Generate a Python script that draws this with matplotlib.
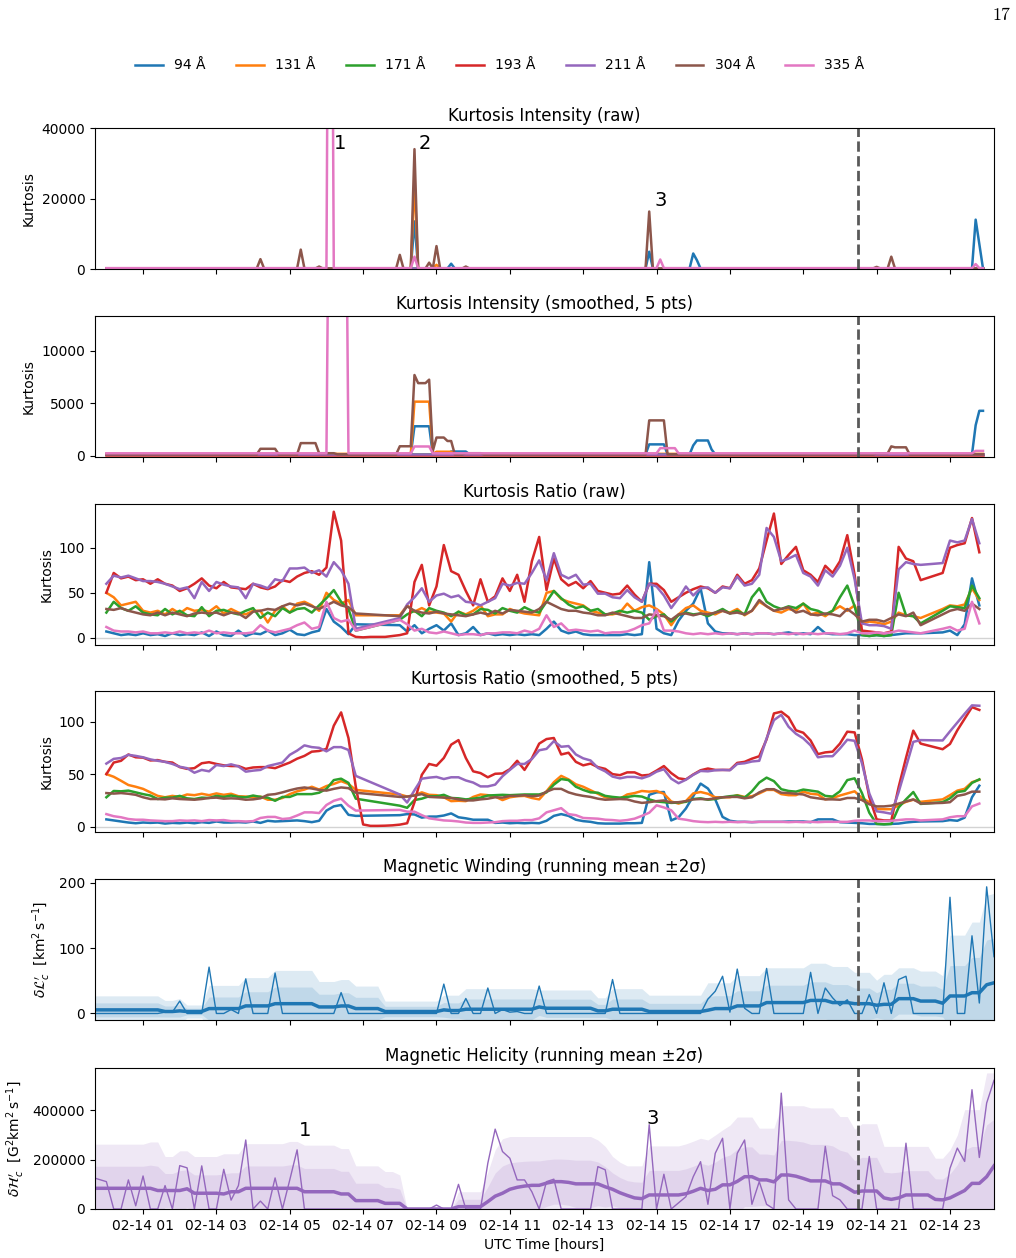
import numpy as np
import pandas as pd
import matplotlib
matplotlib.use("Agg")
import matplotlib.pyplot as plt
import matplotlib.dates as mdates

nan = np.nan
day = pd.Timestamp("2023-02-14")

def to_time(hours):
    return day + pd.to_timedelta(np.asarray(hours, dtype=float), unit="h")

wavelengths = ["94 Å", "131 Å", "171 Å", "193 Å", "211 Å", "304 Å", "335 Å"]
colors = ["tab:blue", "tab:orange", "tab:green", "tab:red", "tab:purple", "tab:brown", "tab:pink"]

# ---------------- kurtosis intensity (6 min cadence) ----------------
intensity_hours = np.arange(240) * 0.1
intensity_base = [150, 200, 150, 50, 200, 150, 250]
intensity_spikes = [
    {8.4: 13500, 9.4: 1500, 14.8: 4900, 16.0: 4400, 16.1: 2500, 23.7: 14000, 23.8: 7000},
    {8.4: 25000, 9.0: 1200},
    {},
    {},
    {},
    {4.2: 2800, 5.3: 5500, 5.8: 700, 8.0: 4000, 8.4: 34000, 8.8: 1800, 9.0: 6500,
     9.8: 700, 14.8: 16300, 21.0: 600, 21.4: 3500},
    {6.1: 200000, 8.4: 3500, 15.1: 2700, 23.7: 1400},
]

# ---------------- kurtosis ratio (12 min cadence) ----------------
ratio_hours = np.arange(120) * 0.2
ratio_94 = [7, 5, 3, 4, 3, 5, 3, 4, 2, 5,
            3, 4, 3, 6, 2, 7, 3, 2, 8, 2,
            5, 4, 8, 3, 5, 9, 4, 3, 6, 8,
            32, 18, 12, 4, 15, nan, nan, nan, nan, nan,
            14, 7, 14, 5, 10, 14, 8, 16, 3, 5,
            12, 3, 5, 3, 4, 3, 4, 3, 4, 3,
            10, 18, 8, 5, 7, 4, 3, 3, 3, 3,
            3, 4, 3, 4, 84, 10, 5, 3, 19, 30,
            38, 55, 16, 7, 5, 5, 4, 5, 4, 5,
            5, 4, 5, 6, 4, 5, 4, 12, 5, 4,
            4, 4, 3, 3, 2, 3, 2, 3, 4, 5,
            5, 5, nan, nan, 6, 8, 3, 15, 66, 36]
ratio_131 = [50, 45, 36, 38, 40, 30, 28, 30, 26, 32,
             27, 33, 30, 31, 29, 35, 27, 32, 28, 26,
             30, 30, 17, 30, 35, 28, 38, 40, 36, 30,
             50, 42, 38, 42, 25, nan, nan, nan, nan, nan,
             25, 36, 29, 33, 29, 28, 27, 18, 29, 26,
             30, 36, 24, 26, 26, 32, 29, 27, 26, 25,
             50, 52, 43, 40, 38, 36, 30, 28, 26, 26,
             28, 38, 30, 34, 36, 32, 26, 14, 26, 33,
             36, 30, 28, 26, 30, 28, 32, 25, 30, 40,
             35, 30, 28, 32, 30, 38, 26, 28, 24, 30,
             35, 30, 36, 16, 18, 17, 15, 18, 28, 25,
             24, 22, nan, nan, 32, 36, 35, 37, 55, 42]
ratio_171 = [28, 40, 33, 30, 35, 28, 26, 25, 32, 26,
             30, 25, 24, 34, 24, 30, 31, 28, 26, 30,
             33, 22, 28, 24, 33, 28, 32, 33, 28, 36,
             44, 53, 40, 32, 8, nan, nan, nan, nan, nan,
             20, 26, 30, 24, 33, 30, 28, 24, 29, 25,
             26, 32, 31, 27, 33, 30, 28, 34, 30, 28,
             40, 52, 44, 37, 33, 35, 30, 32, 26, 27,
             30, 28, 30, 28, 20, 24, 26, 18, 25, 28,
             26, 27, 24, 28, 32, 27, 30, 26, 45, 55,
             40, 35, 32, 35, 33, 38, 32, 30, 26, 30,
             45, 58, 35, 3, 2, 3, 2, 3, 50, 25,
             24, 16, nan, nan, 30, 35, 34, 33, 58, 44]
ratio_193 = [50, 72, 66, 68, 64, 65, 60, 65, 60, 58,
             52, 55, 60, 66, 58, 55, 62, 56, 55, 54,
             60, 56, 54, 57, 64, 62, 68, 72, 74, 70,
             78, 140, 108, 5, 1, 0.5, 1, 1, 1, 2,
             3, 5, 62, 81, 36, 57, 103, 74, 70, 52,
             36, 65, 40, 46, 66, 52, 70, 40, 85, 112,
             53, 88, 65, 58, 62, 55, 63, 52, 50, 48,
             49, 58, 48, 40, 60, 60, 53, 40, 45, 50,
             54, 57, 55, 50, 57, 55, 70, 60, 64, 77,
             108, 138, 82, 92, 101, 75, 70, 62, 80, 72,
             85, 114, 70, 8, 7, 6, 5, 7, 101, 88,
             85, 64, nan, nan, 72, 100, 103, 105, 133, 95]
ratio_211 = [60, 69, 67, 69, 66, 63, 63, 62, 60, 57,
             54, 56, 44, 62, 52, 62, 59, 57, 56, 44,
             60, 58, 55, 65, 63, 77, 77, 78, 72, 75,
             68, 84, 75, 60, 10, nan, nan, nan, nan, nan,
             22, 37, 45, 55, 40, 47, 49, 45, 47, 40,
             39, 36, 40, 44, 60, 58, 61, 60, 72, 86,
             64, 94, 70, 66, 70, 59, 60, 49, 49, 45,
             44, 53, 45, 40, 60, 57, 47, 33, 44, 57,
             47, 55, 56, 50, 56, 55, 68, 58, 60, 70,
             122, 112, 85, 88, 92, 72, 68, 58, 75, 68,
             80, 100, 65, 16, 14, 14, 13, 10, 76, 84,
             82, 81, nan, nan, 83, 108, 106, 108, 132, 105]
ratio_304 = [32, 31, 33, 30, 28, 26, 25, 28, 25, 28,
             26, 24, 27, 28, 27, 28, 25, 28, 27, 22,
             29, 30, 32, 31, 35, 38, 36, 38, 35, 32,
             36, 40, 36, 34, 27, nan, nan, nan, nan, nan,
             24, 35, 30, 28, 27, 29, 27, 26, 25, 24,
             26, 28, 26, 30, 27, 31, 30, 29, 28, 32,
             40, 36, 32, 30, 30, 28, 27, 25, 25, 28,
             26, 24, 22, 22, 26, 25, 24, 20, 26, 27,
             25, 27, 26, 28, 30, 27, 28, 26, 30, 42,
             35, 30, 32, 34, 28, 30, 26, 25, 27, 26,
             24, 32, 26, 18, 20, 20, 18, 22, 26, 24,
             28, 14, nan, nan, 26, 30, 32, 30, 38, 32]
ratio_335 = [12, 8, 7, 7, 6, 7, 5, 5, 6, 5,
             7, 5, 6, 5, 8, 5, 6, 5, 5, 5,
             6, 14, 8, 6, 8, 10, 14, 17, 10, 12,
             40, 22, 18, 20, 8, nan, nan, nan, nan, nan,
             20, 15, 8, 10, 6, 5, 7, 5, 3, 4,
             4, 3, 5, 5, 6, 6, 5, 8, 6, 10,
             25, 12, 16, 8, 9, 8, 7, 8, 5, 6,
             6, 7, 10, 14, 16, 31, 8, 8, 7, 5,
             4, 5, 4, 5, 4, 5, 4, 5, 4, 5,
             5, 4, 5, 4, 5, 4, 5, 4, 5, 5,
             4, 5, 8, 5, 5, 6, 5, 6, 8, 7,
             6, 5, nan, nan, 10, 12, 8, 10, 40, 16]
ratio_series = [ratio_94, ratio_131, ratio_171, ratio_193, ratio_211, ratio_304, ratio_335]

# ---------------- magnetic data (12 min cadence) ----------------
mag_hours = np.concatenate([[-0.31], np.arange(122) * 0.2])

winding_raw = [0,
               0, 0, 0, 0, 0, 0, 0, 0, 2, 2,
               19, 0, 0, 0, 71, 0, 0, 6, 0, 53,
               0, 0, 0, 62, 0, 0, 0, 0, 0, 0,
               0, 0, 32, 0, 0, 0, 0, 0, 0, 0,
               0, 0, 0, 0, 0, 0, 45, 0, 0, 23,
               0, 0, 39, 0, 6, 2, 3, 0, 0, 42,
               0, 0, 0, 0, 0, 0, 0, 0, 0, 52,
               0, 0, 0, 0, 0, 0, 0, 0, 0, 0,
               0, 0, 22, 34, 57, 2, 68, 8, 0, 0,
               69, 0, 0, 0, 0, 0, 63, 0, 39, 24,
               12, 21, 0, 0, 29, 0, 47, 0, 52, 57,
               0, 0, 0, 0, 0, 178, 0, 0, 119, 16,
               194, 87]
winding_mean = [5.5,
                5.5, 5.5, 5.5, 5.5, 5.5, 5.5, 5.5, 5.5, 3, 3,
                4, 3, 3, 3, 7.5, 7.5, 7.5, 7.5, 7.5, 11.6,
                11.6, 11.6, 11.6, 15, 15, 15, 15, 15, 15, 10,
                10, 10, 11.5, 11.5, 7.5, 7.5, 7.5, 7.5, 3, 3,
                3, 3, 3, 3, 3, 3, 5.5, 4.5, 4.5, 6.5,
                6.5, 6.5, 6.5, 6.5, 6.5, 6.5, 6.5, 6.5, 6.5, 10,
                8, 8, 8, 8, 8, 8, 8, 4, 4, 6.5,
                6.5, 6.5, 6.5, 6.5, 3, 3, 3, 3, 3, 3,
                3, 3, 5, 7.5, 7.5, 7.5, 11.6, 11.6, 11.6, 11.6,
                16.7, 16.7, 16.7, 16.7, 16.7, 16.7, 20, 20, 20, 16.7,
                16.7, 16.7, 15, 15, 15, 12.6, 14, 14, 22.7, 22.7,
                22.7, 19, 19, 19, 15.7, 26.8, 26.8, 26.8, 31.8, 31.8,
                44, 47]
winding_upper2 = [27,
                  27, 27, 27, 27, 27, 27, 27, 27, 20, 20,
                  23, 13, 13, 13, 43, 43, 43, 43, 43, 55,
                  55, 55, 55, 66, 66, 66, 66, 66, 66, 49,
                  49, 49, 52, 52, 42, 42, 42, 42, 19, 19,
                  19, 19, 19, 19, 19, 19, 28, 28, 28, 38,
                  38, 38, 38, 38, 38, 38, 38, 38, 38, 36,
                  36, 36, 36, 36, 36, 36, 36, 24, 24, 38,
                  38, 38, 38, 38, 28, 28, 28, 28, 28, 28,
                  28, 28, 47, 47, 47, 47, 58, 58, 58, 58,
                  70, 70, 70, 70, 70, 70, 77, 77, 77, 72,
                  72, 72, 63, 63, 63, 51, 60, 60, 70, 70,
                  70, 65, 65, 65, 58, 120, 120, 120, 140, 140,
                  181, 184]

helicity_raw = [125000,
                111000, 0, 0, 118000, 13000, 134000, 0, 0, 95000, 0,
                176000, 167000, 0, 175000, 0, 0, 161000, 36000, 95000, 280000,
                0, 32000, 0, 126000, 0, 118000, 240000, 0, 0, 0,
                0, 0, 0, 0, 0, 0, 0, 0, 0, 0,
                0, 0, 0, 0, 0, 16000, 0, 0, 100000, 0,
                0, 0, 186000, 324000, 233000, 206000, 118000, 118000, 70000, 0,
                111000, 121000, 0, 0, 0, 0, 0, 172000, 159000, 0,
                0, 0, 0, 0, 342000, 0, 141000, 0, 25000, 50000,
                131000, 192000, 19000, 226000, 287000, 0, 226000, 280000, 19000, 111000,
                19000, 0, 470000, 37000, 0, 0, 0, 0, 254000, 54000,
                37000, 0, 0, 0, 213000, 0, 0, 0, 0, 267000,
                0, 0, 0, 0, 0, 165000, 247000, 193000, 484000, 209000,
                430000, 522000]
helicity_mean = [84000,
                 84000, 84000, 84000, 84000, 84000, 84000, 84000, 75000, 75000, 75000,
                 75000, 82000, 64000, 64000, 64000, 64000, 61000, 70000, 70000, 84000,
                 84000, 84000, 84000, 84000, 84000, 84000, 84000, 70000, 70000, 70000,
                 70000, 70000, 61000, 61000, 34000, 34000, 34000, 34000, 23000, 23000,
                 23000, 0, 0, 0, 0, 0, 0, 0, 9500, 9500,
                 9500, 9500, 30000, 52000, 64000, 80000, 88000, 93000, 96000, 96000,
                 105000, 111000, 111000, 108000, 102000, 102000, 102000, 102000, 90000, 80000,
                 66000, 55000, 45000, 42000, 57000, 57000, 57000, 57000, 57000, 62000,
                 72000, 84000, 75000, 80000, 98000, 98000, 112000, 131000, 131000, 118000,
                 118000, 110000, 138000, 138000, 133000, 124000, 114000, 114000, 114000, 102000,
                 102000, 86000, 68000, 73000, 73000, 73000, 45000, 39000, 45000, 57000,
                 57000, 57000, 57000, 39000, 37000, 45000, 60000, 75000, 104000, 104000,
                 131000, 175000]
helicity_upper2 = [263000,
                   263000, 263000, 263000, 263000, 263000, 263000, 272000, 272000, 213000, 213000,
                   236000, 236000, 213000, 213000, 213000, 213000, 224000, 224000, 224000, 265000,
                   265000, 265000, 265000, 265000, 265000, 274000, 274000, 259000, 259000, 259000,
                   259000, 259000, 245000, 245000, 175000, 175000, 175000, 175000, 152000, 152000,
                   138000, 0, 0, 0, 0, 0, 0, 0, 70000, 70000,
                   70000, 70000, 150000, 240000, 285000, 294000, 294000, 294000, 294000, 294000,
                   294000, 294000, 294000, 294000, 294000, 294000, 294000, 280000, 254000, 213000,
                   190000, 175000, 175000, 175000, 256000, 256000, 256000, 256000, 256000, 264000,
                   275000, 287000, 280000, 300000, 321000, 340000, 373000, 373000, 373000, 328000,
                   328000, 328000, 419000, 419000, 419000, 419000, 410000, 410000, 410000, 410000,
                   375000, 375000, 324000, 346000, 346000, 346000, 254000, 254000, 254000, 254000,
                   254000, 254000, 254000, 206000, 206000, 240000, 300000, 403000, 403000, 403000,
                   552000, 552000]

event_hour = 20.5

# ---------------- figure ----------------
fig = plt.figure(figsize=(10.16, 12.58), dpi=100)
W, H = 1016, 1258
tops = [128, 316, 504, 691, 879, 1068]
axes = []
for i, t in enumerate(tops):
    rect = [95 / W, 1 - (t + 141) / H, 899 / W, 141 / H]
    ax = fig.add_axes(rect, sharex=axes[0] if axes else None)
    axes.append(ax)
ax1, ax2, ax3, ax4, ax5, ax6 = axes

# intensity raw / smoothed
t_int = to_time(intensity_hours)
for base, spikes, c, lab in zip(intensity_base, intensity_spikes, colors, wavelengths):
    vals = np.full(len(intensity_hours), float(base))
    for h, v in spikes.items():
        vals[int(round(h * 10))] = v
    ax1.plot(t_int, vals, color=c, lw=1.8, label=lab)
    smooth = pd.Series(vals).rolling(5, min_periods=1).mean()
    ax2.plot(t_int, smooth, color=c, lw=1.8)

# ratio raw / smoothed
for vals, c in zip(ratio_series, colors):
    s = pd.Series(vals, index=ratio_hours).dropna()
    ax3.plot(to_time(s.index), s.values, color=c, lw=1.8)
    sm = s.rolling(3, min_periods=1).mean()
    ax4.plot(to_time(sm.index), sm.values, color=c, lw=1.8)

# magnetic panels
t_mag = to_time(mag_hours)
for ax, raw, mean, up2, c in [(ax5, winding_raw, winding_mean, winding_upper2, "tab:blue"),
                              (ax6, helicity_raw, helicity_mean, helicity_upper2, "tab:purple")]:
    mean = np.array(mean, dtype=float)
    sig = (np.array(up2, dtype=float) - mean) / 2
    ax.fill_between(t_mag, mean - 2 * sig, mean + 2 * sig, color=c, alpha=0.15, lw=0)
    ax.fill_between(t_mag, mean - sig, mean + sig, color=c, alpha=0.15, lw=0)
    ax.plot(t_mag, raw, color=c, lw=1.0)
    ax.plot(t_mag, mean, color=c, lw=2.5)

titles = ["Kurtosis Intensity (raw)", "Kurtosis Intensity (smoothed, 5 pts)",
          "Kurtosis Ratio (raw)", "Kurtosis Ratio (smoothed, 5 pts)",
          "Magnetic Winding (running mean ±2σ)", "Magnetic Helicity (running mean ±2σ)"]
for ax, ttl in zip(axes, titles):
    ax.set_title(ttl, fontsize=12, pad=5)
    ax.axvline(to_time([event_hour])[0], color="0.35", ls="--", lw=2)
    ax.tick_params(labelsize=10)

for ax in axes[:4]:
    ax.set_ylabel("Kurtosis", fontsize=10)
for ax in (ax3, ax4):
    ax.axhline(0, color="lightgray", lw=1, zorder=0)

ax1.set_ylim(0, 40000)
ax1.set_yticks([0, 20000, 40000])
ax2.set_ylim(-100, 13300)
ax2.set_yticks([0, 5000, 10000])
ax3.set_ylim(-8, 148.6)
ax3.set_yticks([0, 50, 100])
ax4.set_ylim(-5, 129)
ax4.set_yticks([0, 50, 100])
ax5.set_ylim(-10, 206)
ax5.set_yticks([0, 100, 200])
ax6.set_ylim(0, 572000)
ax6.set_yticks([0, 200000, 400000])

ax5.set_ylabel(r"$\delta\mathcal{L}_c'$  [km$^2\,$s$^{-1}$]", fontsize=10)
ax6.set_ylabel(r"$\delta\mathcal{H}_c'$  [G$^2$km$^2\,$s$^{-1}$]", fontsize=10)

ax6.set_xlim(to_time([mag_hours[0]])[0], to_time([mag_hours[-1]])[0])
ax6.xaxis.set_major_locator(mdates.HourLocator(byhour=range(1, 24, 2)))
ax6.xaxis.set_major_formatter(mdates.DateFormatter("%m-%d %H"))
for ax in axes[:-1]:
    ax.tick_params(labelbottom=False)
ax6.set_xlabel("UTC Time [hours]", fontsize=10)

# event labels
def mark(ax, h, y, s):
    ax.text(to_time([h])[0], y, s, fontsize=14, ha="center", va="center")

mark(ax1, 6.37, 35500, "1")
mark(ax1, 8.69, 35500, "2")
mark(ax1, 15.1, 19300, "3")
mark(ax6, 5.42, 320000, "1")
mark(ax6, 14.89, 369000, "3")

handles, labels = ax1.get_legend_handles_labels()
fig.legend(handles, labels, loc="center", bbox_to_anchor=(0.492, 0.948), ncol=7,
           frameon=False, fontsize=10, columnspacing=2.2)

fig.text(0.994, 0.994, "17", ha="right", va="top", fontsize=13, family="cmr10")

fig.savefig("out.png", dpi=100)
